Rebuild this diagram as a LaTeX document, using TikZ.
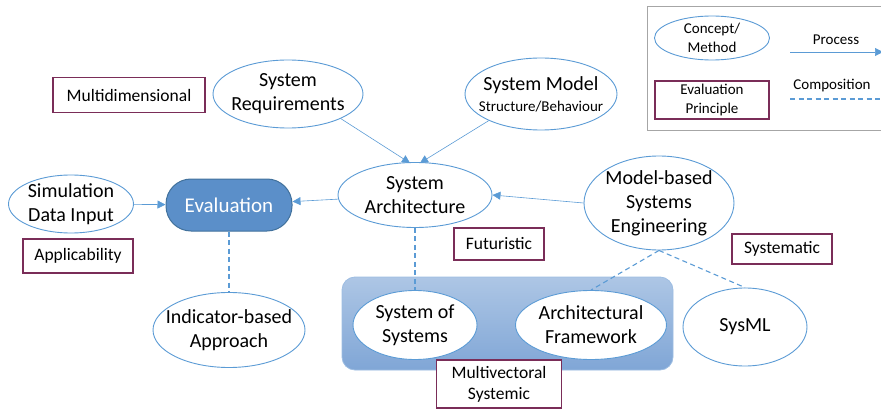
\documentclass[tikz,border=0pt]{standalone}
\usepackage{fontspec}
\setmainfont{Carlito}
\usetikzlibrary{arrows.meta,shapes.geometric,calc}
\definecolor{eblue}{RGB}{91,155,213}
\definecolor{evalfill}{RGB}{91,143,201}
\definecolor{evalborder}{RGB}{65,113,156}
\definecolor{maroon}{RGB}{122,45,88}
\definecolor{lgray}{RGB}{166,166,166}
\definecolor{grtop}{RGB}{173,198,229}
\definecolor{grbot}{RGB}{128,166,214}
\tikzset{
  concept/.style={ellipse,draw=eblue,line width=0.9pt,fill=white,inner sep=0pt},
  ctext/.style={align=center,inner sep=0pt,font=\fontsize{20}{24}\selectfont},
  principle/.style={rectangle,draw=maroon,line width=1.1pt,fill=white,align=center,inner sep=0pt,font=\fontsize{17.5}{21}\selectfont},
  process/.style={draw=eblue,line width=0.6pt,-{Triangle[length=8pt,width=8pt]}},
  compo/.style={draw=eblue,line width=1.1pt,dash pattern=on 5pt off 3.5pt},
  legendtxt/.style={inner sep=0pt,font=\fontsize{15}{19}\selectfont,align=center}
}
\begin{document}
\begin{tikzpicture}[x=1pt,y=-1pt]
\useasboundingbox (0,0) rectangle (881,409);
% legend
\draw[lgray,line width=1pt] (647,7) -- (890,7) (647,7) -- (647,131) -- (890,131);
\node[concept,minimum width=115,minimum height=44,label={[ctext,font=\fontsize{15}{19}\selectfont]center:Concept/\\Method}] (lc) at (712,38) {};
\node[principle,minimum width=114,minimum height=38,font=\fontsize{15}{19}\selectfont] (lp) at (712,100) {Evaluation\\Principle};
\node[legendtxt] (lproc) at (836,40) {Process};
\node[legendtxt] (lcomp) at (832,86) {Composition};
\coordinate (pa) at (790,52); \coordinate (pb) at (883,52);
\coordinate (ca) at (790,99); \coordinate (cb) at (881,99);
\draw[process] (pa) -- (pb);
\draw[compo] (ca) -- (cb);

% group
\shade[top color=grtop,bottom color=grbot,draw=grtop!80!eblue,line width=0.8pt,rounded corners=13pt] (342,277) rectangle (673,370);
\node[concept,minimum width=124,minimum height=69,label={[ctext]center:System of\\Systems}] (sos) at (415,325) {};
\node[concept,minimum width=151,minimum height=69,label={[ctext]center:Architectural\\Framework}] (af) at (591,325) {};

% nodes
\node[principle,minimum width=152,minimum height=35] (multi) at (129,95) {Multidimensional};
\node[concept,minimum width=150,minimum height=68,label={[ctext]center:System\\Requirements}] (req) at (288,94) {};
\node[concept,minimum width=152,minimum height=72,label={[ctext]center:System Model\\[-3pt]{\fontsize{15}{18}\selectfont Structure/Behaviour}}] (model) at (541,94) {};
\node[concept,minimum width=154,minimum height=65,label={[ctext]center:System\\Architecture}] (arch) at (415,195) {};
\node[rectangle,rounded corners=25pt,draw=evalborder,fill=evalfill,line width=1pt,minimum width=126,minimum height=52,text=white,font=\fontsize{21}{25}\selectfont] (eval) at (229,205) {Evaluation};
\node[concept,minimum width=125,minimum height=58,label={[ctext]center:Simulation\\Data Input}] (sim) at (71,204) {};
\node[principle,minimum width=110,minimum height=34] (appl) at (78,256) {Applicability};
\node[concept,minimum width=152,minimum height=75,label={[ctext]center:Indicator-based\\Approach}] (ind) at (229,330) {};
\node[principle,minimum width=90,minimum height=32] (fut) at (499,244) {Futuristic};
\node[principle,minimum width=125,minimum height=48] (multiv) at (499,384) {Multivectoral\\Systemic};
\node[concept,minimum width=150,minimum height=94,label={[ctext]center:Model-based\\Systems\\Engineering}] (mbse) at (659,203) {};
\node[principle,minimum width=100,minimum height=30] (syst) at (782,249) {Systematic};
\node[concept,minimum width=124,minimum height=78,label={[ctext]center:SysML}] (sysml) at (745,327) {};

% connectors
\coordinate (ta1) at (410,163);
\coordinate (ta2) at (420,163);
\draw[process] (req.-25) -- (ta1);
\draw[process] (model.-153) -- (ta2);
\draw[process] (sim) -- (eval);
\draw[process] (arch) -- (eval);
\draw[process] (mbse.west) -- (arch.east);
\draw[compo] (eval.south) -- (ind.north);
\draw[compo] (arch.south) -- (sos.north);
\draw[compo] (mbse.south) -- (af.north);
\draw[compo] (mbse.south) -- (sysml.north);
\end{tikzpicture}
\end{document}
